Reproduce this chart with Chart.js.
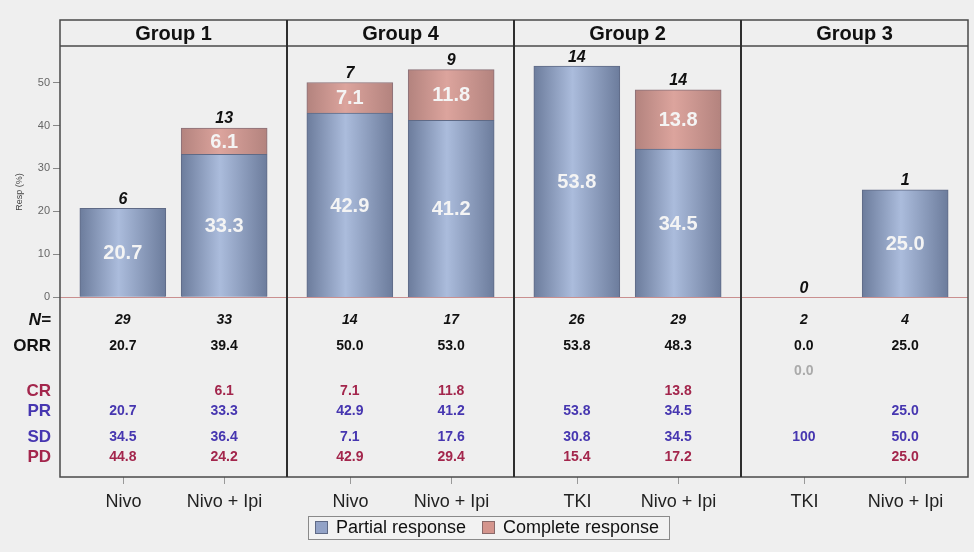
<!DOCTYPE html>
<html>
<head>
<meta charset="utf-8">
<script src="https://cdn.jsdelivr.net/npm/chart.js@4.4.1/dist/chart.umd.min.js"></script>
<style>
  html, body { margin: 0; padding: 0; background: #efefef; }
  #wrap { position: relative; width: 974px; height: 552px; overflow: hidden; }
  #wrap canvas { position: absolute; top: 0; }
  #overlay { left: 0; pointer-events: none; }
</style>
</head>
<body>
<div id="wrap">
  <canvas id="p0" width="287" height="552" style="left:0"></canvas>
  <canvas id="p1" width="227" height="552" style="left:287px"></canvas>
  <canvas id="p2" width="227" height="552" style="left:514px"></canvas>
  <canvas id="p3" width="227" height="552" style="left:741px"></canvas>
  <canvas id="overlay" width="974" height="552"></canvas>
</div>
<script>
// values, two arms per group
const groups = ['Group 1', 'Group 4', 'Group 2', 'Group 3'];
const treatments = ['Nivo', 'Nivo + Ipi', 'Nivo', 'Nivo + Ipi', 'TKI', 'Nivo + Ipi', 'TKI', 'Nivo + Ipi'];
const partialResp = [20.7, 33.3, 42.9, 41.2, 53.8, 34.5, 0, 25.0];
const completeResp = [0, 6.1, 7.1, 11.8, 0, 13.8, 0, 0];
const responders = [6, 13, 7, 9, 14, 14, 0, 1];
const nPatients = ['29', '33', '14', '17', '26', '29', '2', '4'];
const orrRow = ['20.7', '39.4', '50.0', '53.0', '53.8', '48.3', '0.0', '25.0'];
const greyRow = ['', '', '', '', '', '', '0.0', ''];
const crRow = ['', '6.1', '7.1', '11.8', '', '13.8', '', ''];
const prRow = ['20.7', '33.3', '42.9', '41.2', '53.8', '34.5', '', '25.0'];
const sdRow = ['34.5', '36.4', '7.1', '17.6', '30.8', '34.5', '100', '50.0'];
const pdRow = ['44.8', '24.2', '42.9', '29.4', '15.4', '17.2', '', '25.0'];
const yTicks = [0, 10, 20, 30, 40, 50];

const FONT = "'Liberation Sans', Arial, sans-serif";
Chart.defaults.font.family = FONT;

const FRAME = { left: 60, right: 968, top: 20, head: 46, bottom: 477 };
const PANEL_W = 227;
const ZERO_Y = 297.3;
const Y_MAX = 58.5;
const BAR_W = 86;

const RED_TXT = '#a3264c';
const BLUE_TXT = '#4636b0';

const tableRows = [
  { label: 'N=', y: 320, values: nPatients, color: '#111', font: 'italic bold 14px ' + FONT, labelFont: 'italic bold 17px ' + FONT, labelColor: '#111' },
  { label: 'ORR', y: 346, values: orrRow, color: '#111', font: 'bold 14px ' + FONT, labelFont: 'bold 17px ' + FONT, labelColor: '#111' },
  { label: '', y: 371, values: greyRow, color: '#aaa', font: 'bold 14px ' + FONT },
  { label: 'CR', y: 391, values: crRow, color: RED_TXT, font: 'bold 14px ' + FONT, labelFont: 'bold 17px ' + FONT, labelColor: RED_TXT },
  { label: 'PR', y: 411, values: prRow, color: BLUE_TXT, font: 'bold 14px ' + FONT, labelFont: 'bold 17px ' + FONT, labelColor: BLUE_TXT },
  { label: 'SD', y: 437, values: sdRow, color: BLUE_TXT, font: 'bold 14px ' + FONT, labelFont: 'bold 17px ' + FONT, labelColor: BLUE_TXT },
  { label: 'PD', y: 457, values: pdRow, color: RED_TXT, font: 'bold 14px ' + FONT, labelFont: 'bold 17px ' + FONT, labelColor: RED_TXT }
];

// shaded "cylinder" look: darker at the bar edges
function barFill(mid, edge) {
  return function (c) {
    const xs = c.chart.scales.x;
    if (c.type !== 'data' || !xs) return mid;
    const cx = xs.getPixelForValue(c.dataIndex);
    if (!isFinite(cx)) return mid;
    const g = c.chart.ctx.createLinearGradient(cx - BAR_W / 2, 0, cx + BAR_W / 2, 0);
    g.addColorStop(0, edge);
    g.addColorStop(0.45, mid);
    g.addColorStop(1, edge);
    return g;
  };
}

const panelText = {
  id: 'panelText',
  afterDatasetsDraw(chart, args, opts) {
    const { ctx, chartArea, scales } = chart;
    const off = opts.panel * 2;
    ctx.save();

    // reference line at 0
    const y0 = Math.round(scales.y.getPixelForValue(0)) + 0.5;
    ctx.strokeStyle = '#c98f8f';
    ctx.lineWidth = 1;
    ctx.beginPath();
    ctx.moveTo(chartArea.left, y0);
    ctx.lineTo(chartArea.right, y0);
    ctx.stroke();

    // values inside the segments
    ctx.textAlign = 'center';
    ctx.textBaseline = 'middle';
    ctx.font = 'bold 20px ' + FONT;
    ctx.fillStyle = '#f4f4f4';
    chart.data.datasets.forEach((ds, di) => {
      chart.getDatasetMeta(di).data.forEach((bar, i) => {
        const v = ds.data[i].y;
        if (!v) return;
        ctx.fillText(v.toFixed(1), bar.x, (bar.y + bar.base) / 2 + 1);
      });
    });

    // number of responders above each bar
    ctx.font = 'italic bold 16px ' + FONT;
    ctx.fillStyle = '#111';
    for (let i = 0; i < 2; i++) {
      const tot = partialResp[off + i] + completeResp[off + i];
      const x = scales.x.getPixelForValue(i);
      ctx.fillText(String(responders[off + i]), x, scales.y.getPixelForValue(tot) - 9);
    }

    // table under the plot
    tableRows.forEach(r => {
      ctx.font = r.font;
      ctx.fillStyle = r.color;
      for (let i = 0; i < 2; i++) {
        const t = r.values[off + i];
        if (t) ctx.fillText(t, scales.x.getPixelForValue(i), r.y);
      }
    });

    // x ticks and category labels
    ctx.strokeStyle = '#999';
    ctx.font = '18px ' + FONT;
    ctx.fillStyle = '#222';
    for (let i = 0; i < 2; i++) {
      const x = Math.round(scales.x.getPixelForValue(i)) + 0.5;
      ctx.beginPath();
      ctx.moveTo(x, FRAME.bottom);
      ctx.lineTo(x, FRAME.bottom + 7);
      ctx.stroke();
      ctx.fillText(treatments[off + i], x, 502);
    }
    ctx.restore();
  }
};

function makePanel(k) {
  const off = k * 2;
  const pts = arr => arr.slice(off, off + 2).map((v, i) => ({ x: i, y: v || null }));
  const first = k === 0;
  const yScale = {
    stacked: true,
    min: 0,
    max: Y_MAX,
    display: first,
    afterBuildTicks: s => { s.ticks = yTicks.map(v => ({ value: v })); },
    ticks: { color: '#666', font: { size: 11 }, padding: 3 },
    grid: { drawOnChartArea: false, tickLength: 7, color: '#888' },
    border: { display: false }
  };
  if (first) yScale.afterFit = s => { s.width = FRAME.left; };

  new Chart(document.getElementById('p' + k), {
    type: 'bar',
    data: {
      datasets: [
        {
          label: 'Partial response',
          data: pts(partialResp),
          backgroundColor: barFill('#abbcdc', '#6c7c9c'),
          borderColor: '#5f6a86',
          borderWidth: 1,
          barThickness: BAR_W
        },
        {
          label: 'Complete response',
          data: pts(completeResp),
          backgroundColor: barFill('#dca49d', '#b3837e'),
          borderColor: '#8a7078',
          borderWidth: 1,
          barThickness: BAR_W
        }
      ]
    },
    options: {
      responsive: false,
      animation: false,
      events: [],
      layout: { padding: { left: 0, right: 0, top: FRAME.head, bottom: 552 - ZERO_Y } },
      plugins: {
        legend: { display: false },
        tooltip: { enabled: false },
        panelText: { panel: k }
      },
      scales: {
        x: {
          type: 'linear', stacked: true, min: -0.62, max: 1.62,
          offset: false, grid: { offset: false }, display: false
        },
        y: yScale
      }
    },
    plugins: [panelText]
  });
}

[0, 1, 2, 3].forEach(makePanel);

// frame, strip headers, row labels, axis title and legend
const oc = document.getElementById('overlay').getContext('2d');
oc.strokeStyle = '#4a4a4a';
oc.lineWidth = 1.5;
oc.strokeRect(FRAME.left, FRAME.top, FRAME.right - FRAME.left, FRAME.bottom - FRAME.top);
oc.beginPath();
oc.moveTo(FRAME.left, FRAME.head);
oc.lineTo(FRAME.right, FRAME.head);
oc.stroke();
oc.strokeStyle = '#2e2e2e';
oc.lineWidth = 2;
for (let k = 1; k < 4; k++) {
  const x = FRAME.left + k * PANEL_W;
  oc.beginPath();
  oc.moveTo(x, FRAME.top);
  oc.lineTo(x, FRAME.bottom);
  oc.stroke();
}

oc.textAlign = 'center';
oc.textBaseline = 'middle';
oc.fillStyle = '#111';
oc.font = 'bold 20px ' + FONT;
groups.forEach((g, k) => oc.fillText(g, FRAME.left + k * PANEL_W + PANEL_W / 2, 34));

oc.textAlign = 'right';
tableRows.forEach(r => {
  if (!r.label) return;
  oc.font = r.labelFont;
  oc.fillStyle = r.labelColor;
  oc.fillText(r.label, 51, r.y);
});

oc.save();
oc.translate(20, 192);
oc.rotate(-Math.PI / 2);
oc.textAlign = 'center';
oc.fillStyle = '#444';
oc.font = '9px ' + FONT;
oc.fillText('Resp (%)', 0, 0);
oc.restore();

// legend
oc.fillStyle = '#f2f2f2';
oc.fillRect(308.5, 516.5, 361, 23);
oc.strokeStyle = '#8a8a8a';
oc.lineWidth = 1;
oc.strokeRect(308.5, 516.5, 361, 23);
const legendItems = [
  { text: 'Partial response', fill: '#93a3c7', line: '#5f6a86', x: 315 },
  { text: 'Complete response', fill: '#d4958d', line: '#8a6a6a', x: 482 }
];
oc.textAlign = 'left';
oc.font = '18px ' + FONT;
legendItems.forEach(it => {
  oc.fillStyle = it.fill;
  oc.fillRect(it.x + 0.5, 521.5, 12, 12);
  oc.strokeStyle = it.line;
  oc.strokeRect(it.x + 0.5, 521.5, 12, 12);
  oc.fillStyle = '#111';
  oc.fillText(it.text, it.x + 21, 528.5);
});
</script>
</body>
</html>
